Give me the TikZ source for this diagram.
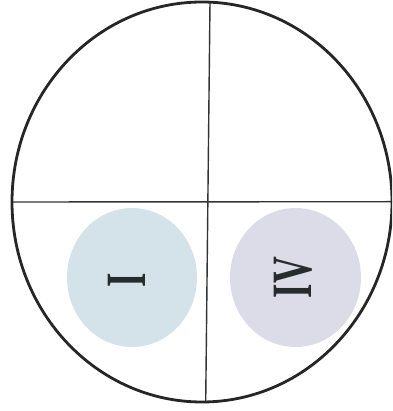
\documentclass[tikz,border=0pt]{standalone}
\usepackage{fontspec}
\setmainfont{Liberation Serif}
\usetikzlibrary{shapes.geometric}
\definecolor{blobA}{HTML}{D4E3E9}
\definecolor{blobB}{HTML}{DCDCE8}
\definecolor{ink}{HTML}{262B2B}
\tikzset{
  rim/.style={line width=2.8pt, draw=black!85},
  divider/.style={line width=1.4pt, draw=black!80},
  blob/.style={ellipse, draw=none, minimum width=130pt, minimum height=139pt, inner sep=0pt},
  numeral/.style={rotate=90, text=ink, font=\fontsize{57}{57}\selectfont\bfseries, inner sep=0pt}
}
\begin{document}
\begin{tikzpicture}[x=1pt,y=1pt]
\useasboundingbox (0,0) rectangle (392,411);
\begin{scope}
\clip (0,0) rectangle (392,411);
% quadrant divider
\coordinate (hl) at (12,209);
\coordinate (hr) at (392,209.3);
\coordinate (vt) at (210,409);
\coordinate (vb) at (205.7,8.5);
\draw[divider] (hl) -- (hr);
\draw[divider] (vt) -- (vb);
% spots
\node[blob, fill=blobA] (spotI) at (132,133.5) {};
\node[blob, fill=blobB, minimum width=131pt] (spotIV) at (295.5,133.5) {};
\node[numeral] (labI) at (127,131) {\scalebox{0.65}[1]{I}};
\node[numeral] (labIV) at (293,133.5) {\scalebox{0.65}[1]{IV}};
% outer rim
\draw[rim] (202,209) ellipse [x radius=190, y radius=200];
\end{scope}
\end{tikzpicture}
\end{document}
